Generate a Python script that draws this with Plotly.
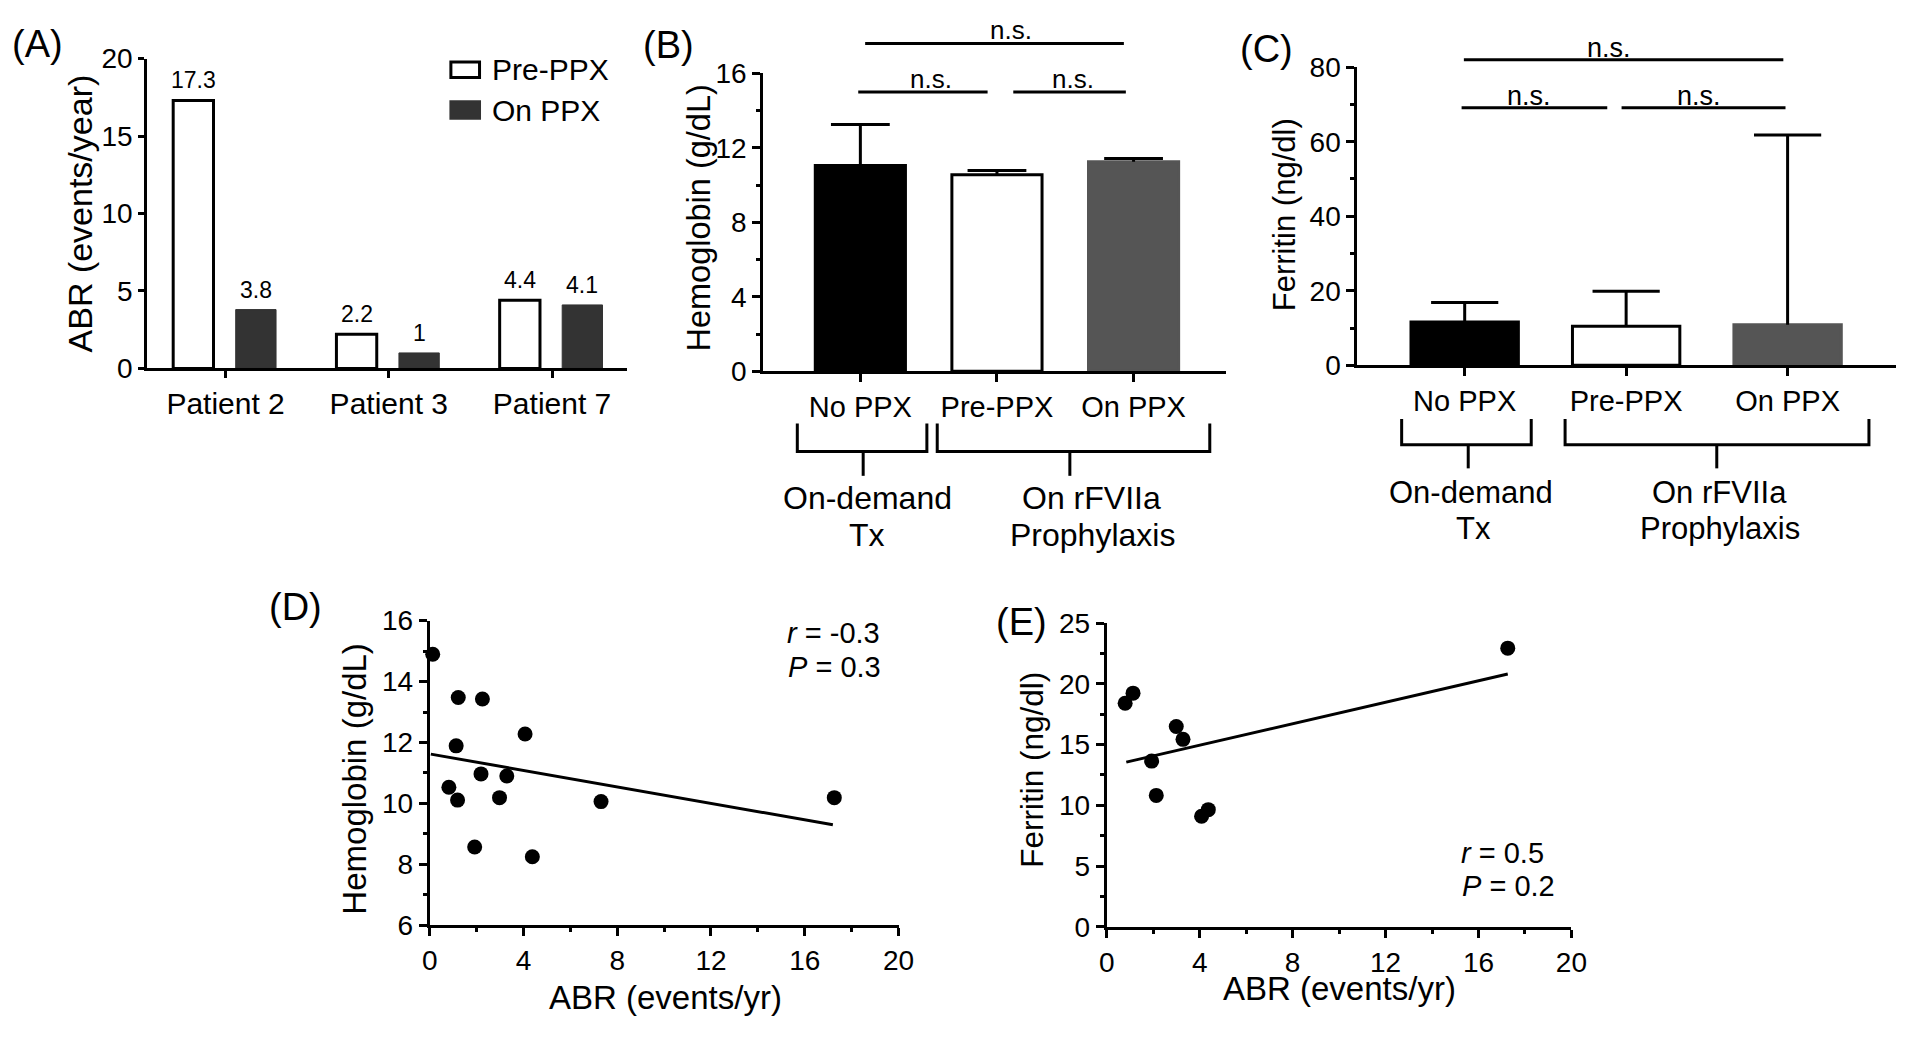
import plotly.graph_objects as go

W, H = 1920, 1039


def X(px):
    return px / W


def Y(py):
    return 1 - py / H


FONT = "Liberation Sans, Arial, Helvetica, sans-serif"

# ---------------- data ----------------
# (A) ABR per patient
patients = ["Patient 2", "Patient 3", "Patient 7"]
abr_pre = [17.3, 2.2, 4.4]
abr_on = [3.8, 1.0, 4.1]
abr_pre_text = ["17.3", "2.2", "4.4"]
abr_on_text = ["3.8", "1", "4.1"]

# (B) hemoglobin, (C) ferritin by group (mean, upper error)
groups = ["No PPX", "Pre-PPX", "On PPX"]
hgb_mean = [11.05, 10.55, 11.25]
hgb_err = [2.2, 0.23, 0.17]
fer_mean = [11.6, 10.5, 10.9]
fer_err = [5.25, 9.4, 50.9]

# (D) ABR vs hemoglobin
d_abr = [0.13, 1.22, 2.25, 4.07, 1.13, 2.19, 3.29, 0.82, 1.19, 2.98, 7.31, 17.26, 1.92, 4.38]
d_hgb = [14.9, 13.48, 13.43, 12.28, 11.89, 10.97, 10.9, 10.53, 10.11, 10.19, 10.06, 10.19, 8.57, 8.25]
d_fit_x = [0.05, 17.2]
d_fit_y = [11.62, 9.30]

# (E) ABR vs ferritin
e_abr = [0.79, 1.13, 1.93, 2.13, 2.99, 3.28, 4.08, 4.37, 17.26]
e_fer = [18.4, 19.23, 13.64, 10.82, 16.49, 15.43, 9.1, 9.65, 22.93]
e_fit_x = [0.84, 17.26]
e_fit_y = [13.56, 20.8]

# ---------------- figure ----------------
fig = go.Figure()

# (A)
A_W = 0.247
A_OFF_PRE, A_OFF_ON = -0.321, 0.062
fig.add_trace(go.Bar(x=patients, y=abr_pre, xaxis="x", yaxis="y", width=A_W, offset=A_OFF_PRE,
                     marker=dict(color="white", line=dict(color="black", width=3)),
                     showlegend=False, hoverinfo="skip"))
fig.add_trace(go.Bar(x=patients, y=abr_on, xaxis="x", yaxis="y", width=A_W, offset=A_OFF_ON,
                     marker=dict(color="#333333", line=dict(color="#333333", width=1)),
                     showlegend=False, hoverinfo="skip"))

# (B) and (C) bars with upward error bars
bar_colors = ["black", "white", "#555555"]
bar_lines = ["black", "black", "#555555"]


def add_group_bars(means, errs, xa, ya, width, cap):
    fig.add_trace(go.Bar(x=groups, y=means, xaxis=xa, yaxis=ya, width=width,
                         marker=dict(color=bar_colors, line=dict(color=bar_lines, width=3)),
                         showlegend=False, hoverinfo="skip"))
    wx, wy = [], []
    for g, m, e in zip(groups, means, errs):
        wx += [g, g, None]
        wy += [m, m + e, None]
    fig.add_trace(go.Scatter(x=wx, y=wy, xaxis=xa, yaxis=ya, mode="lines",
                             line=dict(color="black", width=3), showlegend=False,
                             hoverinfo="skip", cliponaxis=False))
    fig.add_trace(go.Scatter(x=groups, y=[m + e for m, e in zip(means, errs)], xaxis=xa, yaxis=ya,
                             mode="markers", cliponaxis=False,
                             marker=dict(symbol="line-ew", size=cap, color="black",
                                         line=dict(color="black", width=3)),
                             showlegend=False, hoverinfo="skip"))


add_group_bars(hgb_mean, hgb_err, "x2", "y2", 0.66, 42)
add_group_bars(fer_mean, fer_err, "x3", "y3", 0.665, 48)

# (D) and (E) scatter + fit lines
for xs, ys, fx, fy, xa, ya in [(d_abr, d_hgb, d_fit_x, d_fit_y, "x4", "y4"),
                               (e_abr, e_fer, e_fit_x, e_fit_y, "x5", "y5")]:
    fig.add_trace(go.Scatter(x=fx, y=fy, xaxis=xa, yaxis=ya, mode="lines",
                             line=dict(color="black", width=3), showlegend=False, hoverinfo="skip"))
    fig.add_trace(go.Scatter(x=xs, y=ys, xaxis=xa, yaxis=ya, mode="markers", cliponaxis=False,
                             marker=dict(color="black", size=15), showlegend=False, hoverinfo="skip"))


# ---------------- axes ----------------
def axis(domain, anchor, size, **kw):
    d = dict(domain=domain, anchor=anchor, showline=True, linecolor="black", linewidth=3,
             ticks="outside", ticklen=8, tickwidth=3, tickcolor="black", showgrid=False,
             zeroline=False, tickfont=dict(family=FONT, size=size, color="black"), mirror=False)
    d.update(kw)
    return d


minor_style = dict(ticks="outside", ticklen=4, tickwidth=2.5, tickcolor="black", showgrid=False)

fig.update_layout(
    xaxis=axis([X(141), X(626.5)], "y", 30, type="category", range=[-0.48, 2.457], ticklen=7),
    yaxis=axis([Y(364.3), Y(45)], "x", 28, range=[0, 20], dtick=5, ticklen=6),
    xaxis2=axis([X(764.8), X(1233.6)], "y2", 29, type="category", range=[-0.711, 2.678]),
    yaxis2=axis([Y(367.3), Y(60)], "x2", 28, range=[0, 16], dtick=4,
                minor=dict(dtick=2, **minor_style)),
    xaxis3=axis([X(1366.4), X(1912)], "y3", 29, type="category", range=[-0.665, 2.672]),
    yaxis3=axis([Y(361.1), Y(53.8)], "x3", 28, range=[0, 80], dtick=20,
                minor=dict(dtick=10, **minor_style)),
    xaxis4=axis([X(427), X(901.8)], "y4", 28, range=[0, 20], dtick=4,
                minor=dict(dtick=2, **minor_style)),
    yaxis4=axis([Y(938.3), Y(624.3)], "x4", 28, range=[6, 16], dtick=2,
                minor=dict(dtick=1, **minor_style)),
    xaxis5=axis([X(1112.7), X(1583.2)], "y5", 28, range=[0, 20], dtick=4,
                minor=dict(dtick=2, **minor_style)),
    yaxis5=axis([Y(940), Y(626.7)], "x5", 28, range=[0, 25], dtick=5,
                minor=dict(dtick=2.5, **minor_style)),
)

# ---------------- annotations ----------------
ann = []


def txt(px, py, s, size, xanchor="center", angle=0, yanchor="middle"):
    ann.append(dict(x=X(px), y=Y(py), xref="paper", yref="paper", text=s, showarrow=False,
                    xanchor=xanchor, yanchor=yanchor, textangle=angle,
                    font=dict(family=FONT, size=size, color="black")))


# value labels (A)
for i, (v, t) in enumerate(zip(abr_pre, abr_pre_text)):
    ann.append(dict(x=i + A_OFF_PRE + A_W / 2, y=v, xref="x", yref="y", text=t, showarrow=False,
                    yanchor="bottom", yshift=5, font=dict(family=FONT, size=23, color="black")))
for i, (v, t) in enumerate(zip(abr_on, abr_on_text)):
    ann.append(dict(x=i + A_OFF_ON + A_W / 2, y=v, xref="x", yref="y", text=t, showarrow=False,
                    yanchor="bottom", yshift=5, font=dict(family=FONT, size=23, color="black")))

# panel letters
txt(2, 30, "(A)", 38, xanchor="left")
txt(641, 31, "(B)", 38, xanchor="left")
txt(1246, 35.5, "(C)", 38, xanchor="left")
txt(262, 610, "(D)", 38, xanchor="left")
txt(998, 626, "(E)", 38, xanchor="left")

# axis titles
txt(72.5, 205, "ABR (events/year)", 34, angle=-90)
txt(699.5, 209, "Hemoglobin (g/dL)", 32.5, angle=-90)
txt(1293, 205.5, "Ferritin (ng/dl)", 31, angle=-90)
txt(350, 787.5, "Hemoglobin (g/dL)", 33, angle=-90)
txt(1037.5, 778.5, "Ferritin (ng/dl)", 31.5, angle=-90)
txt(665.5, 1013, "ABR (events/yr)", 33)
txt(1348, 1003, "ABR (events/yr)", 33)

# legend (A)
txt(488, 56, "Pre-PPX", 30, xanchor="left")
txt(488, 98, "On PPX", 30, xanchor="left")

# n.s.
txt(1016, 15.5, "n.s.", 26)
txt(935, 66, "n.s.", 26)
txt(1078, 66, "n.s.", 26)
txt(1621.7, 34.5, "n.s.", 27)
txt(1540, 84, "n.s.", 27)
txt(1712, 84, "n.s.", 27)

# group labels under brackets
txt(870, 498, "On-demand", 32)
txt(870, 536, "Tx", 32)
txt(1097, 498, "On rFVIIa", 32)
txt(1098, 536, "Prophylaxis", 32)
txt(1482, 492.7, "On-demand", 31)
txt(1484, 529, "Tx", 31)
txt(1733, 492.7, "On rFVIIa", 31)
txt(1734, 529, "Prophylaxis", 31)

# statistics
txt(787, 636.7, "<i>r</i> = -0.3", 29, xanchor="left")
txt(788, 671.7, "<i>P</i> = 0.3", 29, xanchor="left")
txt(1469, 863.3, "<i>r</i> = 0.5", 29, xanchor="left")
txt(1470.5, 898.3, "<i>P</i> = 0.2", 29, xanchor="left")

# ---------------- shapes ----------------
shapes = []
LINE = dict(color="black", width=3)


def hline(x0, x1, y):
    shapes.append(dict(type="line", xref="paper", yref="paper", x0=X(x0), x1=X(x1),
                       y0=Y(y), y1=Y(y), line=LINE))


def path(points):
    d = "M " + " L ".join(f"{X(a):.5f},{Y(b):.5f}" for a, b in points)
    shapes.append(dict(type="path", xref="paper", yref="paper", path=d, line=LINE))


# significance lines
hline(868, 1130, 29.5)
hline(861, 992, 79.3)
hline(1018, 1132, 79.3)
hline(1474.3, 1797.8, 46.2)
hline(1472, 1619.5, 95.6)
hline(1634, 1800, 95.6)

# brackets (B)
path([(799.3, 421), (799.3, 449.8), (930.5, 449.8), (930.5, 421)])
path([(866, 449.8), (866, 475)])
path([(941, 421), (941, 449.8), (1217, 449.8), (1217, 421)])
path([(1075.3, 449.8), (1075.3, 475)])
# brackets (C)
path([(1411.3, 416.4), (1411.3, 443), (1542.5, 443), (1542.5, 416.4)])
path([(1478.7, 443), (1478.7, 467.3)])
path([(1576.8, 416.4), (1576.8, 443), (1884.5, 443), (1884.5, 416.4)])
path([(1730.4, 443), (1730.4, 467.3)])

# legend boxes (A)
shapes.append(dict(type="rect", xref="paper", yref="paper", x0=X(448.5), x1=X(477.5),
                   y0=Y(64.5), y1=Y(48.5), fillcolor="white", line=dict(color="black", width=3)))
shapes.append(dict(type="rect", xref="paper", yref="paper", x0=X(447), x1=X(479),
                   y0=Y(108), y1=Y(88), fillcolor="#333333", line=dict(width=0)))

fig.update_layout(
    width=W, height=H, margin=dict(l=0, r=0, t=0, b=0, pad=0),
    paper_bgcolor="white", plot_bgcolor="white", barmode="overlay",
    font=dict(family=FONT, color="black"),
    annotations=ann, shapes=shapes, showlegend=False,
)

fig.write_html(
    "out.html",
    config={"responsive": False, "displayModeBar": False},
    post_script="document.body.style.margin='0';document.body.style.overflow='hidden';"
                "document.documentElement.style.overflow='hidden';",
)
